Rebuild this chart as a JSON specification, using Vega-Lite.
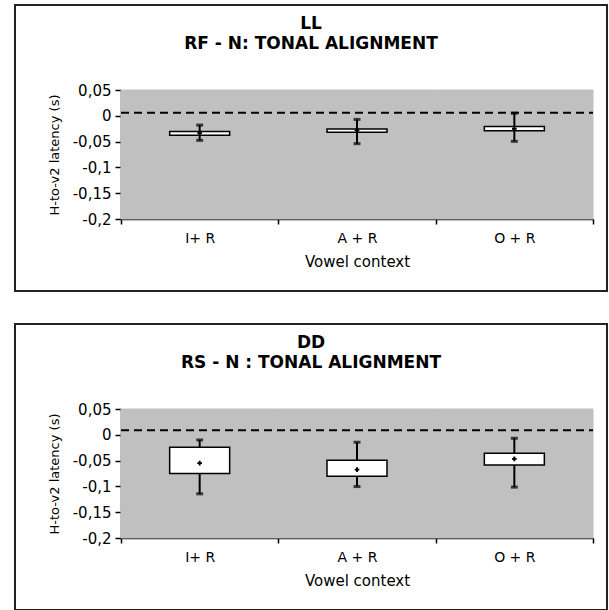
{
  "$schema": "https://vega.github.io/schema/vega-lite/v6.json",
  "padding": {"left": 14, "top": 4, "right": 0, "bottom": 0},
  "background": "white",
  "spacing": 31,
  "config": {
    "locale": {"number": {"decimal": ",", "thousands": ".", "grouping": [3], "currency": ["", "€"], "minus": "-"}},
    "title": {"font": "DejaVu Sans", "fontSize": 17, "fontWeight": "bold", "color": "black", "anchor": "middle", "lineHeight": 20, "baseline": "top", "offset": -48}
  },
  "datasets": {
    "LL": [
      {"cat": "I+ R", "q1": -0.0379, "q3": -0.0302, "lo": -0.0476, "hi": -0.018, "mean": -0.0335},
      {"cat": "A + R", "q1": -0.0321, "q3": -0.0257, "lo": -0.054, "hi": -0.007, "mean": -0.0282},
      {"cat": "O + R", "q1": -0.029, "q3": -0.0205, "lo": -0.0495, "hi": 0.005, "mean": -0.025}
    ],
    "LLref": [{"ref": 0.006}],
    "DD": [
      {"cat": "I+ R", "q1": -0.0751, "q3": -0.0241, "lo": -0.1144, "hi": -0.010, "mean": -0.055},
      {"cat": "A + R", "q1": -0.0802, "q3": -0.0492, "lo": -0.1003, "hi": -0.0144, "mean": -0.0674},
      {"cat": "O + R", "q1": -0.0583, "q3": -0.0357, "lo": -0.1014, "hi": -0.0067, "mean": -0.0467}
    ],
    "DDref": [{"ref": 0.009}]
  },
  "vconcat": [
    {
      "width": 592,
      "height": 286,
      "view": {"stroke": "#222222", "strokeWidth": 2, "fill": "white"},
      "title": {"text": ["LL", "RF - N: TONAL ALIGNMENT"]},
      "resolve": {"scale": {"x": "independent"}},
      "layer": [
        {
          "data": {"name": "LL"},
          "encoding": {
            "x": {
              "field": "cat", "type": "nominal", "sort": ["I+ R", "A + R", "O + R"],
              "scale": {"range": [106, 578], "paddingInner": 0, "paddingOuter": 0},
              "axis": {"orient": "bottom", "offset": -72, "tickBand": "extent", "labelAngle": 0, "title": "Vowel context",
                "domainColor": "black", "domainWidth": 1.5, "tickColor": "black", "tickWidth": 1.5, "tickSize": 5,
                "labelFont": "DejaVu Sans", "labelFontSize": 14, "labelColor": "black", "labelPadding": 7,
                "titleFont": "DejaVu Sans", "titleFontSize": 15, "titleFontWeight": "normal", "titleColor": "black", "titlePadding": 9, "grid": false}
            }
          },
          "layer": [
            {
              "mark": {"type": "bar", "fill": "#c0c0c0", "stroke": "#c0c0c0", "strokeWidth": 1, "width": {"band": 1}},
              "encoding": {
                "y": {"datum": -0.2, "type": "quantitative",
                  "scale": {"domain": [-0.2, 0.05], "range": [214, 85], "nice": false, "zero": false},
                  "axis": {"orient": "left", "offset": -106, "title": "H-to-v2 latency (s)", "values": [-0.2, -0.15, -0.1, -0.05, 0, 0.05], "format": "~g",
                    "domainColor": "black", "domainWidth": 1.5, "tickColor": "black", "tickWidth": 1.5, "tickSize": 6,
                    "labelFont": "DejaVu Sans", "labelFontSize": 15, "labelColor": "black", "labelPadding": 4,
                    "titleFont": "DejaVu Sans", "titleFontSize": 13, "titleFontWeight": "normal", "titleColor": "black", "titlePadding": 11, "grid": false}},
                "y2": {"datum": 0.05}
              }
            },
            {
              "mark": {"type": "rule", "color": "black", "strokeWidth": 2},
              "encoding": {"y": {"field": "lo", "type": "quantitative"}, "y2": {"field": "hi"}}
            },
            {
              "mark": {"type": "tick", "color": "black", "size": 7, "thickness": 3, "orient": "horizontal"},
              "encoding": {"y": {"field": "lo", "type": "quantitative"}}
            },
            {
              "mark": {"type": "tick", "color": "black", "size": 7, "thickness": 3, "orient": "horizontal"},
              "encoding": {"y": {"field": "hi", "type": "quantitative"}}
            },
            {
              "mark": {"type": "bar", "fill": "white", "stroke": "black", "strokeWidth": 1.5, "size": 60},
              "encoding": {"y": {"field": "q1", "type": "quantitative"}, "y2": {"field": "q3"}}
            },
            {
              "mark": {"type": "point", "shape": "cross", "filled": true, "color": "black", "size": 22, "opacity": 1},
              "encoding": {"y": {"field": "mean", "type": "quantitative"}}
            }
          ]
        },
        {
          "data": {"name": "LLref"},
          "mark": {"type": "rule", "color": "black", "strokeWidth": 2, "strokeDash": [8, 5]},
          "encoding": {
            "x": {"datum": 0, "type": "quantitative", "scale": {"domain": [0, 1], "range": [106, 578]}, "axis": null},
            "x2": {"datum": 1},
            "y": {"field": "ref", "type": "quantitative"}
          }
        }
      ]
    },
    {
      "width": 592,
      "height": 286,
      "view": {"stroke": "#222222", "strokeWidth": 2, "fill": "white"},
      "title": {"text": ["DD", "RS - N : TONAL ALIGNMENT"]},
      "resolve": {"scale": {"x": "independent"}},
      "layer": [
        {
          "data": {"name": "DD"},
          "encoding": {
            "x": {
              "field": "cat", "type": "nominal", "sort": ["I+ R", "A + R", "O + R"],
              "scale": {"range": [106, 578], "paddingInner": 0, "paddingOuter": 0},
              "axis": {"orient": "bottom", "offset": -72, "tickBand": "extent", "labelAngle": 0, "title": "Vowel context",
                "domainColor": "black", "domainWidth": 1.5, "tickColor": "black", "tickWidth": 1.5, "tickSize": 5,
                "labelFont": "DejaVu Sans", "labelFontSize": 14, "labelColor": "black", "labelPadding": 7,
                "titleFont": "DejaVu Sans", "titleFontSize": 15, "titleFontWeight": "normal", "titleColor": "black", "titlePadding": 9, "grid": false}
            }
          },
          "layer": [
            {
              "mark": {"type": "bar", "fill": "#c0c0c0", "stroke": "#c0c0c0", "strokeWidth": 1, "width": {"band": 1}},
              "encoding": {
                "y": {"datum": -0.2, "type": "quantitative",
                  "scale": {"domain": [-0.2, 0.05], "range": [214, 85], "nice": false, "zero": false},
                  "axis": {"orient": "left", "offset": -106, "title": "H-to-v2 latency (s)", "values": [-0.2, -0.15, -0.1, -0.05, 0, 0.05], "format": "~g",
                    "domainColor": "black", "domainWidth": 1.5, "tickColor": "black", "tickWidth": 1.5, "tickSize": 6,
                    "labelFont": "DejaVu Sans", "labelFontSize": 15, "labelColor": "black", "labelPadding": 4,
                    "titleFont": "DejaVu Sans", "titleFontSize": 13, "titleFontWeight": "normal", "titleColor": "black", "titlePadding": 11, "grid": false}},
                "y2": {"datum": 0.05}
              }
            },
            {
              "mark": {"type": "rule", "color": "black", "strokeWidth": 2},
              "encoding": {"y": {"field": "lo", "type": "quantitative"}, "y2": {"field": "hi"}}
            },
            {
              "mark": {"type": "tick", "color": "black", "size": 7, "thickness": 3, "orient": "horizontal"},
              "encoding": {"y": {"field": "lo", "type": "quantitative"}}
            },
            {
              "mark": {"type": "tick", "color": "black", "size": 7, "thickness": 3, "orient": "horizontal"},
              "encoding": {"y": {"field": "hi", "type": "quantitative"}}
            },
            {
              "mark": {"type": "bar", "fill": "white", "stroke": "black", "strokeWidth": 1.5, "size": 60},
              "encoding": {"y": {"field": "q1", "type": "quantitative"}, "y2": {"field": "q3"}}
            },
            {
              "mark": {"type": "point", "shape": "cross", "filled": true, "color": "black", "size": 22, "opacity": 1},
              "encoding": {"y": {"field": "mean", "type": "quantitative"}}
            }
          ]
        },
        {
          "data": {"name": "DDref"},
          "mark": {"type": "rule", "color": "black", "strokeWidth": 2, "strokeDash": [8, 5]},
          "encoding": {
            "x": {"datum": 0, "type": "quantitative", "scale": {"domain": [0, 1], "range": [106, 578]}, "axis": null},
            "x2": {"datum": 1},
            "y": {"field": "ref", "type": "quantitative"}
          }
        }
      ]
    }
  ]
}
